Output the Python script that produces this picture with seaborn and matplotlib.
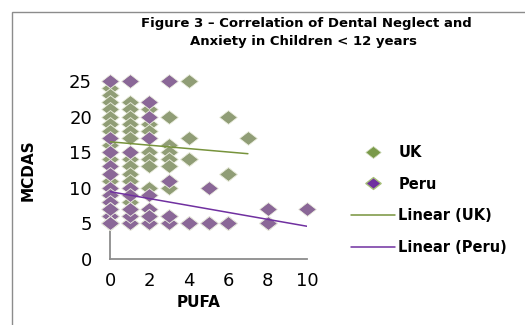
import numpy as np
import pandas as pd
import seaborn as sns
import matplotlib
matplotlib.use("Agg")
import matplotlib.pyplot as plt
from matplotlib.path import Path
from matplotlib.lines import Line2D
from matplotlib.patches import Rectangle

# PUFA score (x) and MCDAS anxiety score (y) per child; repeated pairs are real duplicates
uk_pufa = [0] * 12 + [1] * 11 + [2] * 7 + [3] * 7 + [4] * 4 + [6] * 3 + [7]
uk_mcdas = ([24, 23, 22, 21, 20, 19, 18, 16, 14, 11, 9, 8]
            + [22, 21, 20, 19, 18, 17, 14, 13, 12, 11, 8]
            + [21, 19, 18, 15, 14, 13, 10]
            + [20, 16, 15, 14, 13, 11, 10]
            + [25, 17, 14, 14]
            + [20, 12, 12]
            + [17])

peru_pufa = ([0] * 20 + [1] * 11 + [2] * 10 + [3] * 6 + [4] * 3 + [5] * 4
             + [6] * 4 + [8] * 5 + [10])
peru_mcdas = ([25, 17, 15, 13, 12, 10, 9, 8, 7, 6, 5, 5, 5, 6, 6, 7, 5, 5, 5, 5]
              + [25, 15, 10, 9, 7, 6, 5, 5, 5, 6, 7]
              + [22, 20, 17, 9, 7, 6, 5, 5, 5, 6]
              + [25, 11, 6, 5, 5, 6]
              + [5, 5, 5]
              + [10, 5, 5, 5]
              + [5, 5, 5, 5]
              + [7, 5, 5, 5, 5]
              + [7])

x_ticks = [0, 2, 4, 6, 8, 10]
y_ticks = [0, 5, 10, 15, 20, 25]

df = pd.concat([
    pd.DataFrame({"PUFA": uk_pufa, "MCDAS": uk_mcdas, "group": "UK"}),
    pd.DataFrame({"PUFA": peru_pufa, "MCDAS": peru_mcdas, "group": "Peru"}),
], ignore_index=True)

sns.set_theme(style="white")
plt.rcParams["font.family"] = ["DejaVu Sans"]

W, H = 525, 325
fig = plt.figure(figsize=(W / 100, H / 100), dpi=100)
ax = fig.add_axes([110 / W, (H - 259) / H, (307 - 110) / W, (259 - 81) / H])

# flattened diamond marker
diamond = Path([(-1, 0), (0, 0.78), (1, 0), (0, -0.78), (-1, 0)],
               [Path.MOVETO, Path.LINETO, Path.LINETO, Path.LINETO, Path.CLOSEPOLY])

scatter_colors = {"UK": "#909d76", "Peru": "#8a6797"}
for grp in ["UK", "Peru"]:
    sub = df[df["group"] == grp]
    sns.scatterplot(data=sub, x="PUFA", y="MCDAS", ax=ax, color=scatter_colors[grp],
                    marker=diamond, s=165, edgecolor="#eef0e2", linewidth=0.6,
                    clip_on=False, zorder=3, legend=False)

line_colors = {"UK": "#77933c", "Peru": "#7030a0"}
for grp in ["UK", "Peru"]:
    sub = df[df["group"] == grp]
    sns.regplot(data=sub, x="PUFA", y="MCDAS", ax=ax, scatter=False, ci=None,
                truncate=True, color=line_colors[grp],
                line_kws={"linewidth": 1.1, "zorder": 4})

ax.set_xlim(0, 10)
ax.set_ylim(0, 25)
ax.set_xticks(x_ticks)
ax.set_yticks(y_ticks)
ax.tick_params(axis="both", length=0, labelsize=13, colors="black")
ax.tick_params(axis="y", pad=13)
ax.tick_params(axis="x", pad=9)
for side in ["top", "right"]:
    ax.spines[side].set_visible(False)
for side in ["left", "bottom"]:
    ax.spines[side].set_color("#8c8c8c")
    ax.spines[side].set_linewidth(1.3)
ax.set_xlabel("PUFA", fontsize=11, fontweight="bold", color="black")
ax.set_ylabel("MCDAS", fontsize=11, fontweight="bold", color="black")
ax.xaxis.set_label_coords(0.45, -0.2)
ax.yaxis.set_label_coords(-0.375, 0.5)

fig.text(306 / W, 1 - 23 / H, "Figure 3 \u2013 Correlation of Dental Neglect and",
         ha="center", va="center", fontsize=9.5, fontweight="bold", color="black")
fig.text(303 / W, 1 - 41 / H, "Anxiety in Children < 12 years",
         ha="center", va="center", fontsize=9.5, fontweight="bold", color="black")

# outer chart frame
fig.patches.append(Rectangle((12 / W, -0.1), 1.2, (H - 12) / H + 0.1,
                             transform=fig.transFigure, fill=False,
                             edgecolor="#8c8c8c", linewidth=1.0))

handles = [
    Line2D([], [], linestyle="none", marker=diamond, markersize=11,
           markerfacecolor="#7a9a4a", markeredgecolor="#c9d6b0", markeredgewidth=0.5),
    Line2D([], [], linestyle="none", marker=diamond, markersize=11,
           markerfacecolor="#7030a0", markeredgecolor="#a8c07a", markeredgewidth=1.0),
    Line2D([], [], color=line_colors["UK"], linewidth=1.1),
    Line2D([], [], color=line_colors["Peru"], linewidth=1.1),
]
leg = fig.legend(handles, ["UK", "Peru", "Linear (UK)", "Linear (Peru)"],
                 loc="upper left", bbox_to_anchor=(345 / W, 1 - 139 / H),
                 frameon=False, prop={"size": 10.5, "weight": "bold"},
                 labelspacing=1.15, handlelength=3.0,
                 handletextpad=0.25, borderaxespad=0)
for t in leg.get_texts():
    t.set_color("black")

fig.savefig("out.png", dpi=100)
